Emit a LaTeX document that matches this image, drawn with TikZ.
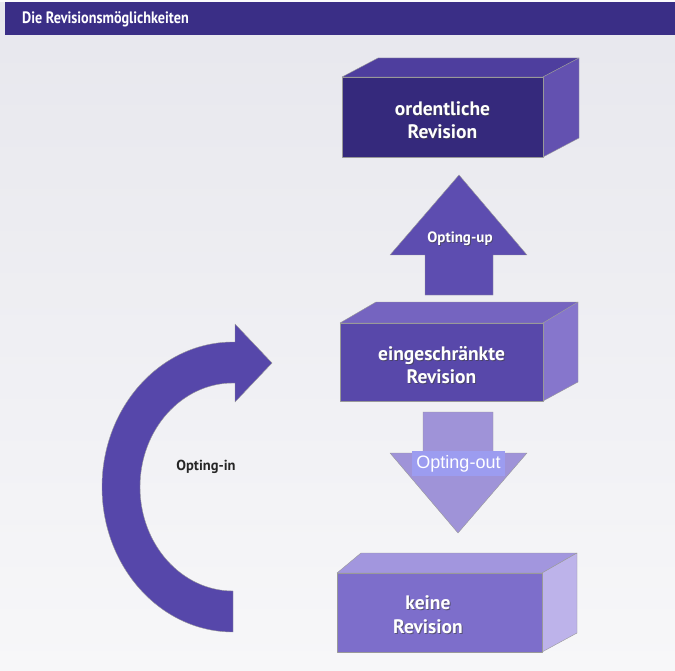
\documentclass[tikz,border=0pt]{standalone}
\usepackage{fontspec}
\setmainfont{PT Sans}
\newfontfamily\arialfont{Liberation Sans}
\begin{document}
\begin{tikzpicture}[x=1pt,y=-1pt,
  boxtext/.style={text=white,font=\bfseries\fontsize{19.5}{23.5}\selectfont,align=center},
  shadowtext/.style={text=black!75,font=\bfseries\fontsize{19.5}{23.5}\selectfont,align=center,opacity=0.6},
  frontA/.style={fill=boxAfront}, topA/.style={fill=boxAtop}, sideA/.style={fill=boxAside},
  frontB/.style={fill=boxBfront}, topB/.style={fill=boxBtop}, sideB/.style={fill=boxBside},
  frontC/.style={fill=boxCfront}, topC/.style={fill=boxCtop}, sideC/.style={fill=boxCside},
  edge/.style={draw=black!40,line width=0.4pt,line join=round}
]
\definecolor{bgtop}{HTML}{E7E7ED}
\definecolor{bgbot}{HTML}{F7F7F9}
\definecolor{bar}{HTML}{3A2E86}
\definecolor{boxAfront}{HTML}{35297C}
\definecolor{boxAtop}{HTML}{4E3E9E}
\definecolor{boxAside}{HTML}{6351B0}
\definecolor{boxBfront}{HTML}{5848AA}
\definecolor{boxBtop}{HTML}{7564C0}
\definecolor{boxBside}{HTML}{8676CC}
\definecolor{boxCfront}{HTML}{7D6ECB}
\definecolor{boxCtop}{HTML}{A296DE}
\definecolor{boxCside}{HTML}{BDB3EA}
\definecolor{uparrow}{HTML}{5D4DB0}
\definecolor{downarrow}{HTML}{9F93D8}
\definecolor{optout}{HTML}{9C9CF0}
\definecolor{curved}{HTML}{5647AA}
\useasboundingbox (0,0) rectangle (675,671);
% background
\shade[top color=bgtop,bottom color=bgbot] (0,0) rectangle (675,671);
\fill[white!85!bgtop] (0,0) rectangle (675,2);
\fill[bar] (5,2) rectangle (675,35);
\node[anchor=west,text=white,font=\bfseries\fontsize{16.5}{19}\selectfont,inner sep=0pt,xscale=0.86] (title) at (22,19) {Die Revisionsmöglichkeiten};

% box A: ordentliche Revision
\path[topA,edge] (342,77) -- (378,58) -- (579,58) -- (543,77) -- cycle;
\path[sideA,edge] (543,77) -- (579,58) -- (579,138) -- (543,157) -- cycle;
\path[frontA,edge] (342,77) rectangle (543,157);
\node[shadowtext] at (443.5,121) {ordentliche\\Revision};
\node[boxtext] (ord) at (442.5,120) {ordentliche\\Revision};

% up arrow
\path[fill=uparrow,edge] (425,295) -- (425,255) -- (390,255) -- (459,175) -- (527,255) -- (493,255) -- (493,295) -- cycle;
\node[text=black!75,opacity=0.6,font=\bfseries\fontsize{15}{18}\selectfont] at (460.8,239.8) {Opting-up};
\node[text=white,font=\bfseries\fontsize{15}{18}\selectfont] (up) at (460,239) {Opting-up};

% box B: eingeschränkte Revision
\path[topB,edge] (340,323) -- (376,302) -- (578,302) -- (543,323) -- cycle;
\path[sideB,edge] (543,323) -- (578,302) -- (578,382) -- (543,401) -- cycle;
\path[frontB,edge] (340,323) rectangle (543,401);
\node[shadowtext] at (442.5,366) {eingeschränkte\\Revision};
\node[boxtext] (ein) at (441.5,365) {eingeschränkte\\Revision};

% down arrow
\path[fill=downarrow,edge] (423,412) -- (493,412) -- (493,453) -- (527,453) -- (458,533) -- (390,453) -- (423,453) -- cycle;
\node[fill=optout,text=white,font=\arialfont\fontsize{18}{20}\selectfont,minimum width=93,minimum height=25,inner sep=0pt] (out) at (458.5,463.5) {Opting-out};

% box C: keine Revision
\path[topC,edge] (337,573) -- (361,553) -- (577,553) -- (542,573) -- cycle;
\path[sideC,edge] (542,573) -- (577,553) -- (577,633) -- (542,652) -- cycle;
\path[frontC,edge] (337,573) rectangle (542,652);
\node[shadowtext] at (429,615.5) {keine\\Revision};
\node[boxtext] (kei) at (428,614.5) {keine\\Revision};

% curved arrow (Opting-in)
\path[fill=curved,edge] (233,632) arc[start angle=90,end angle=270,x radius=131,y radius=145]
  -- (235,342) -- (235,324) -- (272,363) -- (235,402) -- (235,383) -- (233,383)
  arc[start angle=270,end angle=90,x radius=93,y radius=104] -- cycle;
\node[text=black!85,font=\bfseries\fontsize{14.5}{17}\selectfont] (in) at (206,467) {Opting-in};
\end{tikzpicture}
\end{document}
